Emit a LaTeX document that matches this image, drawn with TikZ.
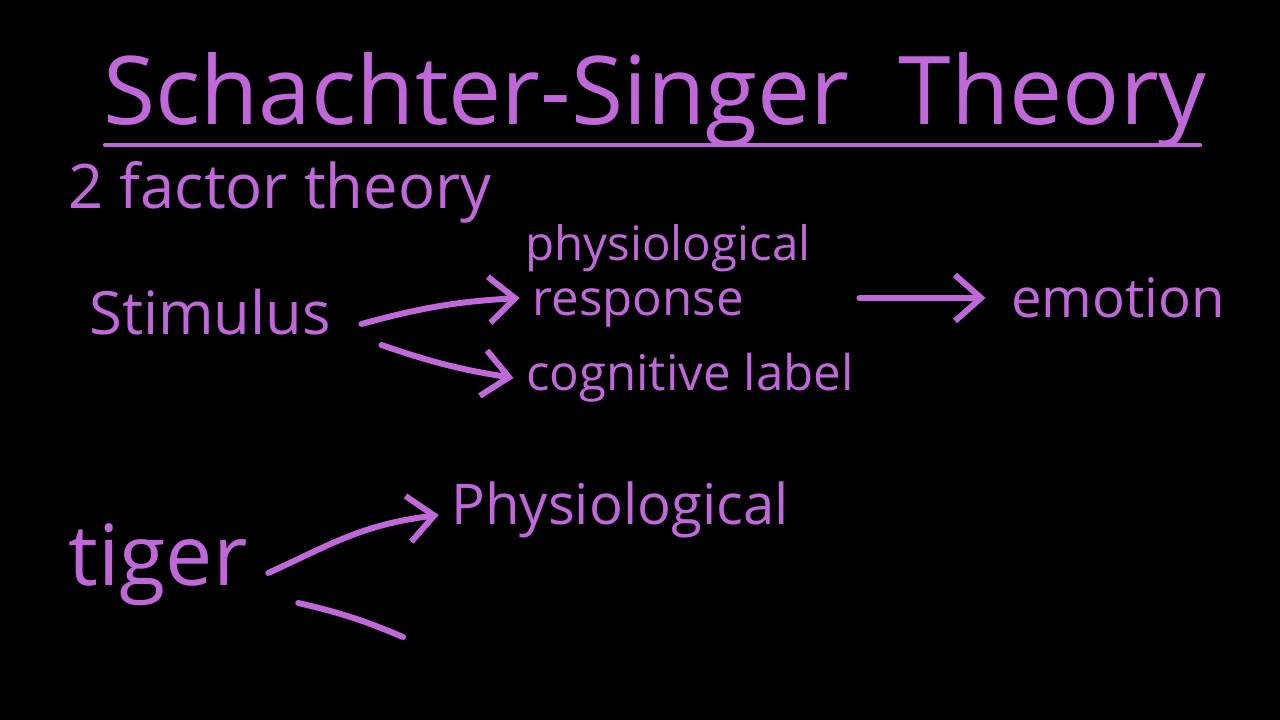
\documentclass[tikz,border=0pt]{standalone}
\usepackage{fontspec}
\setmainfont{Open Sans}
\usetikzlibrary{arrows.meta}
\definecolor{chalk}{RGB}{192,104,218}
\begin{document}
\begin{tikzpicture}
  [every node/.style={text=chalk,inner sep=0pt},
   arr/.style={draw=chalk,line width=1.7pt,line cap=round,-{Straight Barb[length=2.6mm,width=4.6mm,line width=1.7pt]}},
   stroke/.style={draw=chalk,line width=1.7pt,line cap=round}]
  \fill[black] (0,0) rectangle (12.8,7.2);
  \useasboundingbox (0,0) rectangle (12.8,7.2);

  \node (title) at (6.55,6.2) {\fontsize{27}{30}\selectfont Schachter-Singer\ \ Theory};
  \draw[stroke,line width=1.2pt] (1.05,5.75) -- (12.0,5.75);
  \node (two) at (2.8,5.28) {\fontsize{17.5}{20}\selectfont 2 factor theory};

  \node (stim) at (2.1,4.08) {\fontsize{17}{19}\selectfont Stimulus};
  \node (phys) at (6.68,4.72) {\fontsize{13.5}{16}\selectfont physiological};
  \node (resp) at (6.38,4.12) {\fontsize{14}{16}\selectfont response};
  \node (cogn) at (6.9,3.42) {\fontsize{14}{16}\selectfont cognitive label};
  \node (emot) at (11.18,4.22) {\fontsize{15.5}{18}\selectfont emotion};

  \node (tiger) at (1.58,1.55) {\fontsize{24}{26}\selectfont tiger};
  \node (physb) at (6.2,2.1) {\fontsize{16}{18}\selectfont Physiological};
  \coordinate (free) at (4.03,0.83);

  \draw[arr] ([xshift=0.3cm,yshift=-0.12cm]stim.east) to[bend left=6] ([xshift=-0.12cm,yshift=0.1cm]resp.west);
  \draw[arr] ([xshift=0.5cm,yshift=-0.33cm]stim.east) to[bend right=5] ([xshift=-0.12cm]cogn.west);
  \draw[arr] ([xshift=1.15cm,yshift=0.1cm]resp.east) -- ([xshift=-0.25cm]emot.west);
  \draw[arr] ([xshift=0.2cm,yshift=-0.08cm]tiger.east) .. controls (3.3,1.75) and (3.6,1.95) .. ([xshift=-0.12cm,yshift=-0.05cm]physb.west);
  \draw[stroke] ([xshift=0.5cm,yshift=-0.38cm]tiger.east) to[bend left=5] (free);
\end{tikzpicture}
\end{document}
